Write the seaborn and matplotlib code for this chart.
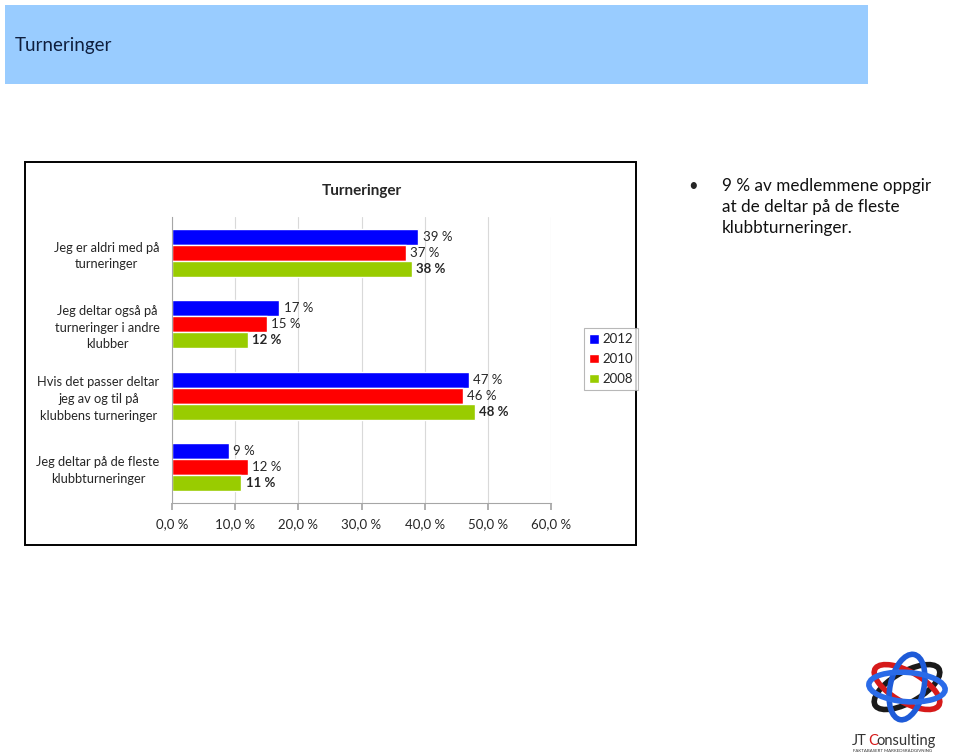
import matplotlib
matplotlib.use("Agg")
import matplotlib.pyplot as plt
import matplotlib.patches as mpatches
import pandas as pd
import seaborn as sns

# Data
categories = [
    "Jeg er aldri med på\nturneringer",
    "Jeg deltar også på\nturneringer i andre\nklubber",
    "Hvis det passer deltar\njeg av og til på\nklubbens turneringer",
    "Jeg deltar på de fleste\nklubbturneringer",
]
years = ["2012", "2010", "2008"]
values_2012 = [39, 17, 47, 9]
values_2010 = [37, 15, 46, 12]
values_2008 = [38, 12, 48, 11]
x_ticks = [0, 10, 20, 30, 40, 50, 60]
colors = {"2012": "#0000FF", "2010": "#FF0000", "2008": "#99CC00"}

rows = []
for year, vals in zip(years, [values_2012, values_2010, values_2008]):
    for cat, v in zip(categories, vals):
        rows.append({"kategori": cat, "år": year, "andel": v})
df = pd.DataFrame(rows)

sns.set_theme(style="white")
plt.rcParams["font.family"] = ["Lato", "DejaVu Sans"]

W, H = 960, 755
fig = plt.figure(figsize=(W / 100, H / 100), dpi=100)


def fx(x):
    return x / W


def fy(y):
    return 1 - y / H


# title banner
fig.patches.append(mpatches.Rectangle((fx(5), fy(84)), fx(863), 79 / H,
                                      transform=fig.transFigure, facecolor="#99CCFF",
                                      edgecolor="none", zorder=0))
fig.text(fx(15), fy(46), "Turneringer", fontsize=13.5, color="#0F1F3F", va="center")

# chart frame
fig.patches.append(mpatches.Rectangle((fx(25), fy(545)), fx(611), 383 / H,
                                      transform=fig.transFigure, facecolor="none",
                                      edgecolor="black", linewidth=1.4, zorder=0))

ax = fig.add_axes([fx(172), fy(503), fx(379), (503 - 217) / H])
ax.set_facecolor("none")
sns.barplot(data=df, y="kategori", x="andel", hue="år", hue_order=years,
            palette=colors, orient="h", width=0.67, saturation=1, ax=ax)

ax.set_xlim(0, 60)
ax.set_ylim(3.5, -0.5)
ax.set_xticks(x_ticks)
ax.set_xticklabels([f"{t:.1f}".replace(".", ",") + " %" for t in x_ticks], fontsize=9.5)
ax.set_xlabel("")
ax.set_ylabel("")
ax.xaxis.grid(True, color="#D9D9D9", linewidth=0.8)
ax.set_axisbelow(True)

ax.set_yticks(range(len(categories)))
ax.set_yticklabels(categories, fontsize=9.3)
for t in ax.get_yticklabels():
    t.set_multialignment("center")
    t.set_linespacing(1.45)
ax.set_yticks([-0.5, 0.5, 1.5, 2.5, 3.5], minor=True)
ax.tick_params(axis="y", which="major", length=0, pad=9)
ax.tick_params(axis="y", which="minor", length=5, color="#A6A6A6", direction="out")
ax.tick_params(axis="x", length=5, color="#A6A6A6", direction="out", pad=6)
ax.xaxis.set_ticks_position("bottom")

for side in ["top", "right"]:
    ax.spines[side].set_visible(False)
for side in ["left", "bottom"]:
    ax.spines[side].set_color("#A6A6A6")
    ax.spines[side].set_linewidth(0.8)

for i, cont in enumerate(ax.containers):
    ax.bar_label(cont, fmt="%d %%", padding=3, fontsize=9.5,
                 fontweight="bold" if years[i] == "2008" else "normal")

ax.set_title("Turneringer", fontsize=11, fontweight="bold", pad=16)

# legend
handles, labels = ax.get_legend_handles_labels()
ax.legend_.remove()
leg = fig.legend(handles, labels, loc="upper left", bbox_to_anchor=(fx(584), fy(328)),
                 fontsize=9.5, frameon=True, fancybox=False, edgecolor="#A6A6A6",
                 handlelength=0.75, handleheight=0.75, handletextpad=0.25,
                 borderpad=0.4, labelspacing=0.6, borderaxespad=0)
leg.get_frame().set_linewidth(0.8)

# bullet text
fig.text(fx(688), fy(186), "•", fontsize=12, va="center")
for i, line in enumerate(["9 % av medlemmene oppgir", "at de deltar på de fleste",
                          "klubbturneringer."]):
    fig.text(fx(722), fy(186 + 21 * i), line, fontsize=12.3, va="center", color="#111111")

# logo (simple approximation)
lax = fig.add_axes([fx(862), fy(728), fx(90), 78 / H])
lax.set_xlim(-1, 1)
lax.set_ylim(-1, 1)
lax.axis("off")
for ang, col in [(35, "#1A1A1A"), (-35, "#D61A1A"), (80, "#1E5BD8"), (-5, "#2A6BE8")]:
    lax.add_patch(mpatches.Ellipse((0, 0.05), 1.7, 0.75, angle=ang, fill=False,
                                   edgecolor=col, linewidth=4))
fig.text(fx(852), fy(741), "JT", fontsize=10.5, color="#333333", va="center")
fig.text(fx(868), fy(741), "C", fontsize=10.5, color="#D61A1A", va="center")
fig.text(fx(876), fy(741), "onsulting", fontsize=10.5, color="#333333", va="center")
fig.text(fx(853), fy(751), "FAKTABASERT MARKEDSRÅDGIVNING", fontsize=3.2,
         color="#333333", va="center")

fig.savefig("out.png", dpi=100)
